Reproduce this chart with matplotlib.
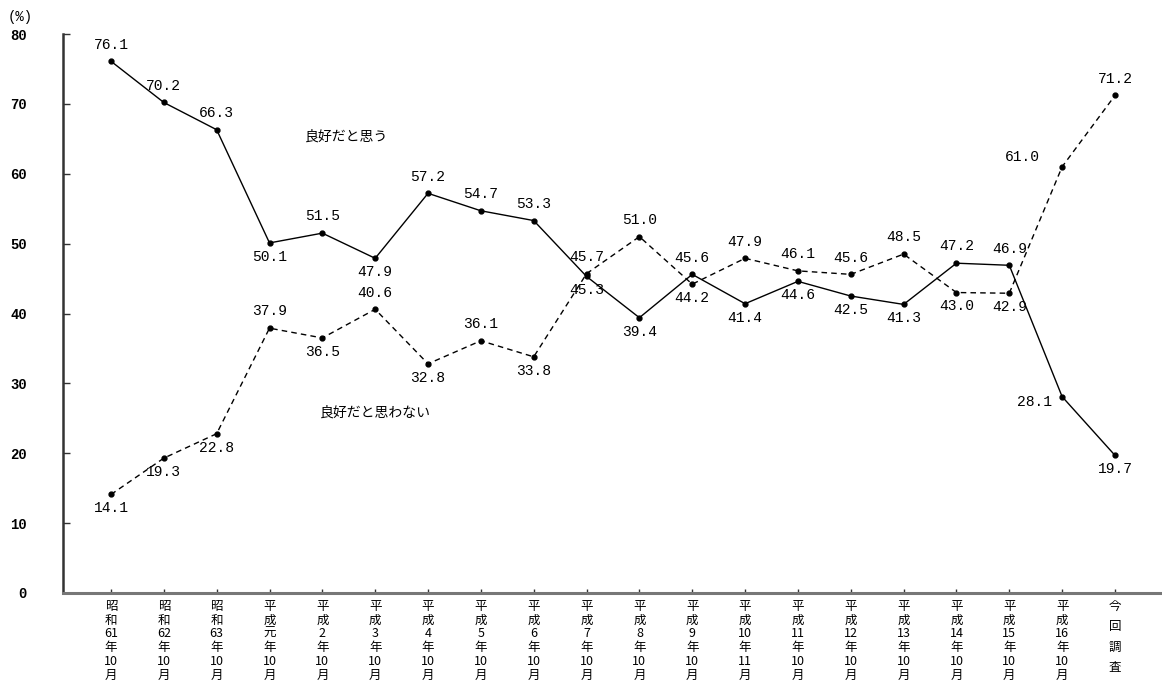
import matplotlib
matplotlib.use("Agg")
import matplotlib.pyplot as plt

plt.rcParams['font.family'] = ['Noto Sans CJK JP', 'DejaVu Sans']

categories = ["昭\n和\n61\n年\n10\n月", "昭\n和\n62\n年\n10\n月", "昭\n和\n63\n年\n10\n月",
              "平\n成\n元\n年\n10\n月", "平\n成\n2\n年\n10\n月", "平\n成\n3\n年\n10\n月",
              "平\n成\n4\n年\n10\n月", "平\n成\n5\n年\n10\n月", "平\n成\n6\n年\n10\n月",
              "平\n成\n7\n年\n10\n月", "平\n成\n8\n年\n10\n月", "平\n成\n9\n年\n10\n月",
              "平\n成\n10\n年\n11\n月", "平\n成\n11\n年\n10\n月", "平\n成\n12\n年\n10\n月",
              "平\n成\n13\n年\n10\n月", "平\n成\n14\n年\n10\n月", "平\n成\n15\n年\n10\n月",
              "平\n成\n16\n年\n10\n月", "今\n回\n調\n査"]

good = [76.1, 70.2, 66.3, 50.1, 51.5, 47.9, 57.2, 54.7, 53.3, 45.3,
        39.4, 45.6, 41.4, 44.6, 42.5, 41.3, 47.2, 46.9, 28.1, 19.7]
not_good = [14.1, 19.3, 22.8, 37.9, 36.5, 40.6, 32.8, 36.1, 33.8, 45.7,
            51.0, 44.2, 47.9, 46.1, 45.6, 48.5, 43.0, 42.9, 61.0, 71.2]

# label placement: 'a' above, 'b' below, 'l' left
good_pos = ['a', 'a', 'a', 'b', 'a', 'b', 'a', 'a', 'a', 'b',
            'b', 'a', 'b', 'b', 'b', 'b', 'a', 'a', 'l', 'b']
not_good_pos = ['b', 'b', 'b', 'a', 'b', 'a', 'b', 'a', 'b', 'a',
                'a', 'b', 'a', 'a', 'a', 'a', 'b', 'b', 'l2', 'a']

yticks = [0, 10, 20, 30, 40, 50, 60, 70, 80]

fig = plt.figure(figsize=(11.62, 6.87), dpi=100)
ax = fig.add_axes([63 / 1162, (687 - 593) / 687, 1 - 63 / 1162, (593 - 34) / 687])

x = list(range(len(good)))
ax.plot(x, good, color='black', lw=1.0, marker='o', ms=3.5, zorder=3)
ax.plot(x, not_good, color='black', lw=1.0, linestyle=(0, (4, 3)), marker='o', ms=3.5, zorder=3)

ax.set_xlim(-0.908, 19.89)
ax.set_ylim(0, 80)

mono = 'Liberation Mono'

def put_labels(vals, pos):
    for i, (v, p) in enumerate(zip(vals, pos)):
        s = f"{v:.1f}"
        if p == 'a':
            ax.annotate(s, (i, v), xytext=(0, 7), textcoords='offset points',
                        ha='center', va='bottom', fontsize=10.5, family=mono)
        elif p == 'b':
            ax.annotate(s, (i, v), xytext=(0, -5), textcoords='offset points',
                        ha='center', va='top', fontsize=10.5, family=mono)
        elif p == 'l':
            ax.annotate(s, (i, v), xytext=(-7, -4), textcoords='offset points',
                        ha='right', va='center', fontsize=10.5, family=mono)
        else:
            ax.annotate(s, (i, v), xytext=(-16, 7), textcoords='offset points',
                        ha='right', va='center', fontsize=10.5, family=mono)

put_labels(good, good_pos)
put_labels(not_good, not_good_pos)

ax.text(3.67, 65.3, "良好だと思う", fontsize=10, ha='left', va='center')
ax.text(3.96, 25.8, "良好だと思わない", fontsize=10, ha='left', va='center')

for sp in ['top', 'right']:
    ax.spines[sp].set_visible(False)
ax.spines['left'].set_color('#333333')
ax.spines['left'].set_linewidth(1.8)
ax.spines['bottom'].set_color('#777777')
ax.spines['bottom'].set_linewidth(2.2)

ax.set_yticks(yticks)
ax.set_yticklabels([str(t) for t in yticks], family=mono, fontsize=10, fontweight='bold')
ax.tick_params(axis='y', direction='in', length=5, width=1, pad=26, color='#333333')
ax.set_xticks(x)
ax.set_xticklabels([])
ax.tick_params(axis='x', direction='in', length=3, width=1, color='#333333')

trans = ax.get_xaxis_transform()
for i, lab in enumerate(categories):
    ls = 1.08 if lab.count('\n') == 5 else 1.75
    ax.text(i, -0.012, lab, transform=trans, ha='center', va='top', fontsize=9,
            linespacing=ls, clip_on=False)

fig.text(8 / 1162, 1 - 17 / 687, "(%)", fontsize=10, family=mono, va='center', ha='left')

fig.savefig("out.png", dpi=100)
